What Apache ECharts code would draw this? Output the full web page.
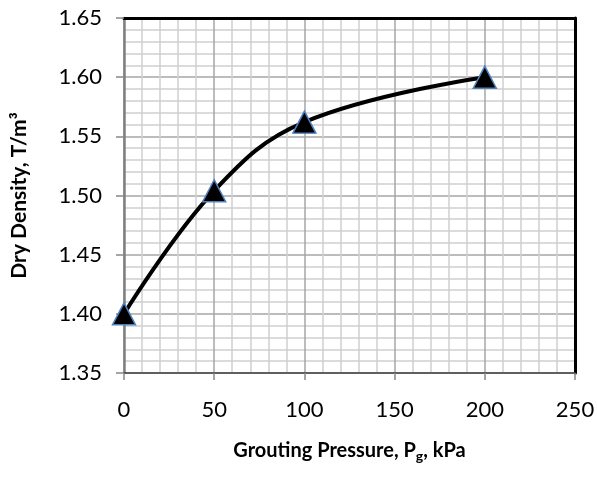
<!DOCTYPE html>
<html>
<head>
<meta charset="utf-8">
<script src="https://cdn.jsdelivr.net/npm/echarts@6/dist/echarts.min.js"></script>
<style>
  html, body { margin: 0; padding: 0; background: #fff; }
  #chart { width: 597px; height: 479px; }
</style>
</head>
<body>
<div id="chart"></div>
<script>
const pressure = [0, 50, 100, 200];
const density = [1.40, 1.504, 1.562, 1.60];

const xTicks = { min: 0, max: 250, interval: 50 };
const yTicks = { min: 1.35, max: 1.65, interval: 0.05 };

const FONT = "Lato";

const chart = echarts.init(document.getElementById("chart"));

const gridLines = {
  splitLine: { show: true, lineStyle: { color: "#a6a6a6", width: 1.5 } },
  minorTick: { show: false, splitNumber: 5 },
  minorSplitLine: { show: true, lineStyle: { color: "#cfcfcf", width: 1.5 } }
};

chart.setOption({
  animation: false,
  grid: { left: 124, top: 18, right: 22, bottom: 106, outerBoundsMode: "none", containLabel: false },
  xAxis: [{
    type: "value",
    ...xTicks,
    position: "bottom",
    name: "{b|Grouting Pressure, P}{s|g}{b|, kPa}",
    nameLocation: "middle",
    nameGap: 66,
    nameTextStyle: {
      rich: {
        b: { fontFamily: FONT, fontWeight: "bold", fontSize: 20, color: "#000" },
        s: { fontFamily: FONT, fontWeight: "bold", fontSize: 14, color: "#000", verticalAlign: "bottom", padding: [10, 0, 0, 0] }
      }
    },
    axisLine: { show: true, onZero: false, lineStyle: { color: "#404040", width: 1.5 } },
    axisTick: { show: true, inside: false, length: 7, lineStyle: { color: "#888", width: 1.5 } },
    axisLabel: { margin: 26, fontFamily: FONT, fontSize: 22, color: "#000" },
    ...gridLines
  }, {
    type: "value",
    ...xTicks,
    position: "top",
    axisLine: { show: true, onZero: false, lineStyle: { color: "#000", width: 3 } },
    axisTick: { show: false },
    axisLabel: { show: false },
    splitLine: { show: false }
  }],
  yAxis: [{
    type: "value",
    ...yTicks,
    position: "left",
    name: "Dry Density, T/m³",
    nameLocation: "middle",
    nameGap: 94,
    nameTextStyle: { fontFamily: FONT, fontWeight: "bold", fontSize: 21, color: "#000" },
    axisLine: { show: true, onZero: false, lineStyle: { color: "#808080", width: 2.5 } },
    axisTick: { show: true, inside: false, length: 8, lineStyle: { color: "#888", width: 1.5 } },
    axisLabel: { margin: 22, fontFamily: FONT, fontSize: 22, color: "#000", formatter: v => v.toFixed(2) },
    ...gridLines
  }, {
    type: "value",
    ...yTicks,
    position: "right",
    axisLine: { show: true, onZero: false, lineStyle: { color: "#000", width: 3 } },
    axisTick: { show: false },
    axisLabel: { show: false },
    splitLine: { show: false }
  }],
  series: [{
    type: "line",
    data: pressure.map((p, i) => [p, density[i]]),
    smooth: 0.4,
    lineStyle: { color: "#000", width: 4 },
    symbol: "triangle",
    symbolSize: [23, 22],
    itemStyle: { color: "#000", borderColor: "#4f81bd", borderWidth: 1.5 },
    z: 5
  }]
});
</script>
</body>
</html>
